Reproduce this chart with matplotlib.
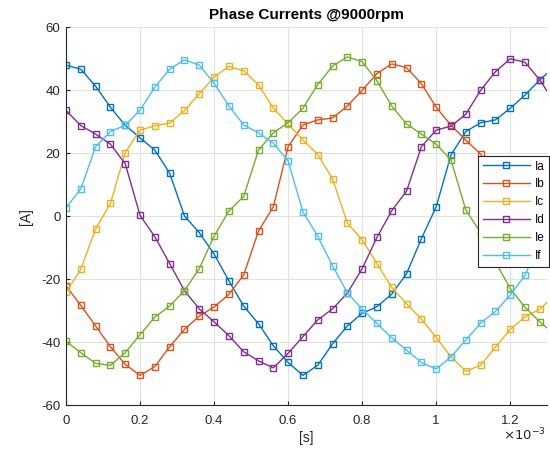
import numpy as np
import matplotlib
matplotlib.use("Agg")
import matplotlib.pyplot as plt
from matplotlib.ticker import FuncFormatter

plt.rcParams['font.family'] = ['Liberation Sans', 'DejaVu Sans']

# sample step 40 microseconds
dt = 4e-5
Ia = [48.0, 46.7, 41.3, 34.6, 28.9, 24.9, 21.0, 13.7, 0.1, -5.2, -12.0, -20.5,
      -28.5, -34.1, -41.1, -46.4, -50.5, -47.3, -40.5, -34.8, -30.8, -28.7,
      -24.7, -18.2, -7.1, 3.0, 19.5, 26.9, 29.7, 30.6, 34.3, 38.5, 43.3, 47.5]
Ib = [-22.1, -28.3, -34.8, -41.4, -47.0, -50.5, -47.7, -41.4, -35.9, -31.7,
      -28.8, -24.8, -18.6, -4.7, 3.0, 22.1, 29.0, 30.6, 31.2, 35.0, 40.0, 45.3,
      48.4, 47.2, 42.1, 34.6, 28.9, 24.2, 19.7, 13.7, 0.5, -5.0, -12.0, -20.5]
Ic = [-24.1, -16.8, -4.0, 4.1, 20.2, 27.4, 28.7, 29.6, 33.6, 38.9, 44.2, 47.6,
      46.2, 41.7, 34.4, 29.3, 24.2, 19.6, 11.9, -2.1, -7.5, -15.0, -22.6, -27.8,
      -32.6, -38.5, -44.6, -49.2, -47.3, -41.6, -35.9, -31.9, -29.5, -25.0]
Id = [33.6, 28.8, 26.1, 22.9, 16.7, 0.3, -6.5, -15.0, -23.6, -29.4, -33.5,
      -37.9, -43.0, -45.9, -48.1, -43.5, -38.2, -32.9, -29.4, -24.4, -16.6,
      -6.7, 1.8, 8.0, 22.1, 27.4, 28.6, 32.4, 40.0, 45.9, 50.0, 48.9, 43.3, 36.0]
Ie = [-39.7, -43.3, -46.7, -47.3, -43.3, -37.6, -32.0, -28.5, -23.6, -16.6,
      -6.3, 1.7, 6.3, 21.0, 26.5, 29.7, 34.3, 41.8, 47.7, 50.6, 49.1, 43.0,
      35.0, 29.3, 26.1, 22.9, 17.9, 2.0, -5.2, -14.5, -22.9, -28.9, -33.5, -37.5]
If = [2.7, 8.7, 22.1, 26.9, 28.9, 33.7, 41.0, 46.7, 49.7, 48.0, 42.2, 35.1,
      29.0, 26.5, 23.2, 17.6, 1.4, -6.3, -15.7, -24.3, -29.5, -34.0, -38.6,
      -42.5, -46.4, -48.5, -44.6, -39.3, -33.9, -30.2, -25.0, -18.7, -8.0, 3.0]

series = {'Ia': Ia, 'Ib': Ib, 'Ic': Ic, 'Id': Id, 'Ie': Ie, 'If': If}
colors = ['#0072BD', '#D95319', '#EDB120', '#7E2F8E', '#77AC30', '#4DBEEE']

t = np.arange(len(Ia)) * dt

fig = plt.figure(figsize=(5.5, 4.59), dpi=100)
ax = fig.add_axes([0.12, 0.117, 0.875, 0.8235])

for (name, vals), c in zip(series.items(), colors):
    ax.plot(t, vals, color=c, lw=1.0, marker='s', markersize=5,
            markerfacecolor='none', markeredgecolor=c, markeredgewidth=1.0,
            label=name)

ax.set_xlim(0, 1.3e-3)
ax.set_ylim(-60, 60)
ax.set_xticks(np.arange(0, 1.3e-3, 0.2e-3))
ax.set_yticks(np.arange(-60, 61, 20))

# tick labels in units of 1e-3 s, plain hyphen for negatives
ax.xaxis.set_major_formatter(FuncFormatter(lambda v, p: f'{v * 1e3:g}'))
ax.yaxis.set_major_formatter(FuncFormatter(lambda v, p: f'{v:g}'))

dark = '#262626'
ax.grid(True, color='#e2e2e2', lw=0.8)
ax.set_axisbelow(True)
for s in ['top', 'right']:
    ax.spines[s].set_visible(False)
for s in ['left', 'bottom']:
    ax.spines[s].set_color(dark)
    ax.spines[s].set_linewidth(0.8)
ax.tick_params(direction='in', length=3, width=0.8, colors=dark,
               labelsize=9.5)
ax.tick_params(axis='x', pad=7)
ax.tick_params(axis='y', pad=4)

# exponent of the time axis
fig.text(0.992, 0.04, r'$\times10^{-3}$', ha='right', va='baseline',
         fontsize=9.5, color=dark)

ax.set_title('Phase Currents @9000rpm', fontsize=11, fontweight='bold',
             color='black', pad=6)
ax.set_xlabel('[s]', fontsize=10, color=dark, labelpad=3)
ax.set_ylabel('[A]', fontsize=10, color=dark, labelpad=6)

leg = ax.legend(loc='upper right', bbox_to_anchor=(1.004, 0.66),
                borderaxespad=0, fontsize=8.5, handlelength=4,
                labelspacing=0.5, fancybox=False, framealpha=1,
                edgecolor=dark, handletextpad=0.4, borderpad=0.4)
leg.get_frame().set_linewidth(0.8)

fig.savefig('out.png', dpi=100)
